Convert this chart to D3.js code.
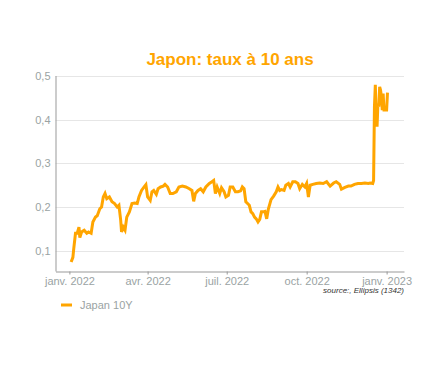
<!DOCTYPE html>
<html>
<head>
<meta charset="utf-8">
<script src="https://cdn.jsdelivr.net/npm/d3@7"></script>
<style>
  body { margin: 0; background: #fff; }
  svg { display: block; font-family: Arial, "Liberation Sans", sans-serif; }
</style>
</head>
<body>
<div id="chart"></div>
<script>
// Data (Japan 10Y yield, %)
const dates = [
  "2022-01-03","2022-01-05","2022-01-06","2022-01-08","2022-01-10","2022-01-12","2022-01-13","2022-01-15",
  "2022-01-18","2022-01-21","2022-01-23","2022-01-26","2022-01-28","2022-01-31","2022-02-02","2022-02-05",
  "2022-02-07","2022-02-09","2022-02-11","2022-02-13","2022-02-16","2022-02-19","2022-02-22","2022-02-25",
  "2022-02-27","2022-03-01","2022-03-02","2022-03-04","2022-03-06","2022-03-08","2022-03-11","2022-03-14",
  "2022-03-17","2022-03-20","2022-03-22","2022-03-25","2022-03-28","2022-03-30","2022-04-01","2022-04-04",
  "2022-04-06","2022-04-08","2022-04-11","2022-04-13","2022-04-16","2022-04-19","2022-04-21","2022-04-24",
  "2022-04-27","2022-04-30","2022-05-04","2022-05-07","2022-05-11","2022-05-15","2022-05-19","2022-05-22",
  "2022-05-24","2022-05-26","2022-05-29","2022-06-01","2022-06-04","2022-06-07","2022-06-11","2022-06-14",
  "2022-06-16","2022-06-18","2022-06-20","2022-06-23","2022-06-25","2022-06-28","2022-06-30","2022-07-03",
  "2022-07-05","2022-07-08","2022-07-11","2022-07-14","2022-07-17","2022-07-19","2022-07-21","2022-07-23",
  "2022-07-25","2022-07-27","2022-07-29","2022-07-31","2022-08-02","2022-08-04","2022-08-06","2022-08-08",
  "2022-08-10","2022-08-12","2022-08-14","2022-08-16","2022-08-18","2022-08-21","2022-08-24","2022-08-27",
  "2022-08-29","2022-08-31","2022-09-02","2022-09-05","2022-09-07","2022-09-10","2022-09-12","2022-09-15",
  "2022-09-18","2022-09-21","2022-09-23","2022-09-26","2022-09-29","2022-10-01","2022-10-03","2022-10-05",
  "2022-10-08","2022-10-12","2022-10-16","2022-10-20","2022-10-24","2022-10-28","2022-11-01","2022-11-04",
  "2022-11-08","2022-11-10","2022-11-14","2022-11-18","2022-11-21","2022-11-25","2022-11-29","2022-12-03",
  "2022-12-07","2022-12-11","2022-12-13","2022-12-16","2022-12-17","2022-12-18","2022-12-19","2022-12-20",
  "2022-12-21","2022-12-22","2022-12-23","2022-12-24","2022-12-25","2022-12-26","2022-12-27","2022-12-28",
  "2022-12-29","2022-12-31","2023-01-01","2023-01-02"
];
const japan10y = [
  0.074,0.085,0.105,0.140,0.140,0.154,0.130,0.143,
  0.147,0.140,0.143,0.140,0.166,0.177,0.180,0.196,
  0.200,0.223,0.231,0.219,0.223,0.212,0.208,0.200,
  0.204,0.170,0.143,0.154,0.147,0.177,0.189,0.208,
  0.209,0.208,0.223,0.238,0.246,0.251,0.223,0.215,
  0.235,0.238,0.229,0.242,0.246,0.248,0.252,0.246,
  0.231,0.231,0.235,0.246,0.248,0.246,0.242,0.238,
  0.213,0.231,0.238,0.242,0.235,0.246,0.254,0.258,
  0.261,0.231,0.246,0.231,0.244,0.235,0.223,0.227,
  0.246,0.246,0.235,0.235,0.237,0.246,0.242,0.212,
  0.208,0.204,0.189,0.185,0.177,0.173,0.166,0.172,
  0.189,0.189,0.190,0.173,0.196,0.217,0.225,0.235,
  0.246,0.238,0.240,0.238,0.250,0.254,0.246,0.258,
  0.258,0.254,0.242,0.252,0.246,0.254,0.223,0.250,
  0.252,0.254,0.255,0.254,0.258,0.248,0.255,0.258,
  0.252,0.241,0.245,0.248,0.248,0.252,0.254,0.254,
  0.255,0.254,0.255,0.254,0.261,0.430,0.480,0.407,
  0.384,0.437,0.430,0.475,0.468,0.453,0.422,0.460,
  0.422,0.422,0.422,0.462
];
const yTicks = [0.1, 0.2, 0.3, 0.4, 0.5];
const xTicks = ["2022-01-01", "2022-04-01", "2022-07-01", "2022-10-01", "2023-01-01"];
const xDomain = ["2021-12-16", "2023-01-21"];

const parseDate = d3.timeParse("%Y-%m-%d");
const data = dates.map((d, i) => ({date: parseDate(d), value: japan10y[i]}));

// Canvas
const svgWidth = 430;
const svgHeight = 370;
const plot = {left: 55.5, right: 404, top: 76, bottom: 271.5};

const svg = d3.select("#chart")
  .append("svg")
  .attr("width", svgWidth)
  .attr("height", svgHeight);

// Scales
const x = d3.scaleTime()
  .domain(xDomain.map(parseDate))
  .range([plot.left, plot.right]);

const y = d3.scaleLinear()
  .domain([0.0525, 0.5])
  .range([plot.bottom, plot.top]);

const frMonth = d3.timeFormatLocale({
  dateTime: "%A %e %B %Y à %X", date: "%d/%m/%Y", time: "%H:%M:%S",
  periods: ["AM", "PM"],
  days: ["dimanche","lundi","mardi","mercredi","jeudi","vendredi","samedi"],
  shortDays: ["dim.","lun.","mar.","mer.","jeu.","ven.","sam."],
  months: ["janvier","février","mars","avril","mai","juin","juillet","août","septembre","octobre","novembre","décembre"],
  shortMonths: ["janv.","févr.","mars","avr.","mai","juin","juil.","août","sept.","oct.","nov.","déc."]
}).format("%b %Y");

// Gridlines
svg.append("g")
  .selectAll("line")
  .data(yTicks)
  .enter()
  .append("line")
  .attr("x1", plot.left)
  .attr("x2", plot.right)
  .attr("y1", d => Math.round(y(d)) + 0.5)
  .attr("y2", d => Math.round(y(d)) + 0.5)
  .attr("stroke", "#e6e6e6")
  .attr("stroke-width", 1);

// y axis
const yAxis = d3.axisLeft(y)
  .tickValues(yTicks)
  .tickSize(0)
  .tickPadding(5)
  .tickFormat(d => d3.format(".1f")(d).replace(".", ","));

const yG = svg.append("g")
  .attr("transform", `translate(${plot.left}, 0)`)
  .call(yAxis);
yG.select(".domain").attr("stroke", "#999").attr("d", `M0.5,${plot.top}V${plot.bottom}`);
yG.selectAll("text")
  .attr("fill", "#9aa3a3")
  .attr("font-size", "11px")
  .attr("font-family", "Arial, 'Liberation Sans', sans-serif");

// x axis
const xAxis = d3.axisBottom(x)
  .tickValues(xTicks.map(parseDate))
  .tickSizeInner(3)
  .tickSizeOuter(0)
  .tickPadding(3)
  .tickFormat(frMonth);

const xG = svg.append("g")
  .attr("transform", `translate(0, ${plot.bottom})`)
  .call(xAxis);
xG.select(".domain").attr("stroke", "#999");
xG.selectAll(".tick line").attr("stroke", "#999");
xG.selectAll("text")
  .attr("fill", "#9aa3a3")
  .attr("font-size", "11px")
  .attr("font-family", "Arial, 'Liberation Sans', sans-serif");

// Line
const line = d3.line()
  .x(d => x(d.date))
  .y(d => y(d.value));

svg.append("path")
  .datum(data)
  .attr("fill", "none")
  .attr("stroke", "#FFA500")
  .attr("stroke-width", 3)
  .attr("stroke-linejoin", "miter")
  .attr("d", line);

// Title
svg.append("text")
  .attr("x", 230)
  .attr("y", 65)
  .attr("text-anchor", "middle")
  .attr("fill", "#FFA500")
  .attr("font-size", "17px")
  .attr("font-weight", "bold")
  .text("Japon: taux à 10 ans");

// Source
svg.append("text")
  .attr("x", plot.right)
  .attr("y", 293)
  .attr("text-anchor", "end")
  .attr("fill", "#333")
  .attr("font-size", "8px")
  .attr("font-style", "italic")
  .text("source:, Ellipsis (1342)");

// Legend
const legend = svg.append("g").attr("transform", "translate(61, 305)");
legend.append("line")
  .attr("x1", 0).attr("x2", 11)
  .attr("y1", 0).attr("y2", 0)
  .attr("stroke", "#FFA500")
  .attr("stroke-width", 3);
legend.append("text")
  .attr("x", 19)
  .attr("y", 4)
  .attr("fill", "#9aa3a3")
  .attr("font-size", "11px")
  .text("Japan 10Y");
</script>
</body>
</html>
